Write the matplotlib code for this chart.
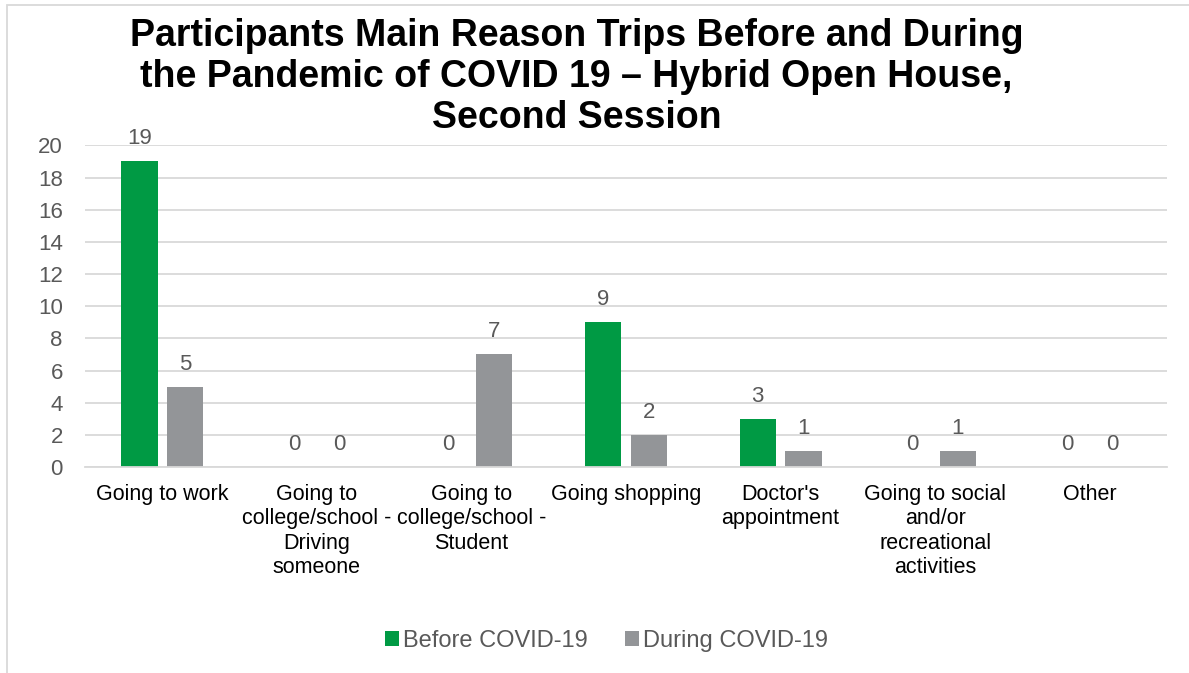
import matplotlib.pyplot as plt
import numpy as np

plt.rcParams["font.family"] = ["Liberation Sans", "DejaVu Sans"]

categories = [
    "Going to work",
    "Going to\ncollege/school -\nDriving\nsomeone",
    "Going to\ncollege/school -\nStudent",
    "Going shopping",
    "Doctor's\nappointment",
    "Going to social\nand/or\nrecreational\nactivities",
    "Other",
]
before = [19, 0, 0, 9, 3, 0, 0]
during = [5, 0, 7, 2, 1, 1, 0]
series_names = ["Before COVID-19", "During COVID-19"]
title_lines = [
    "Participants Main Reason Trips Before and During",
    "the Pandemic of COVID 19 \u2013 Hybrid Open House,",
    "Second Session",
]

green = "#009A44"
gray = "#939598"
text_gray = "#595959"

fig = plt.figure(figsize=(11.89, 6.73), dpi=100)
ax = fig.add_axes([0.0715, 0.306, 0.910, 0.478])

x = np.arange(len(categories))
w = 0.235
gap = 0.03
b1 = ax.bar(x - w / 2 - gap, before, w, color=green, label=series_names[0])
b2 = ax.bar(x + w / 2 + gap, during, w, color=gray, label=series_names[1])

for bars in (b1, b2):
    for r in bars:
        ax.text(r.get_x() + r.get_width() / 2, r.get_height() + 0.75,
                f"{int(r.get_height())}", ha="center", va="bottom",
                fontsize=16, color=text_gray)

ax.set_ylim(0, 20)
ax.set_xlim(-0.5, len(categories) - 0.5)
ax.set_yticks(range(0, 21, 2))
ax.yaxis.grid(True, color="#D9D9D9", linewidth=1.3)
ax.set_axisbelow(True)
for s in ["top", "right", "left"]:
    ax.spines[s].set_visible(False)
ax.spines["bottom"].set_color("#D9D9D9")
ax.spines["bottom"].set_linewidth(1.3)
ax.tick_params(axis="y", length=0, labelsize=16, labelcolor=text_gray, pad=16)
ax.tick_params(axis="x", length=0, labelsize=15.5, labelcolor="black", pad=12)
ax.set_xticks(x)
ax.set_xticklabels(categories, linespacing=1.22, va="top")

# title drawn line by line so each line keeps a tight box
for i, line in enumerate(title_lines):
    fig.text(0.485, 0.946 - i * 0.061, line, ha="center", va="center",
             fontsize=27, fontweight="bold")

fig.legend(loc="center", bbox_to_anchor=(0.51, 0.048), ncol=2, frameon=False,
           fontsize=17, labelcolor=text_gray, handlelength=0.6, handleheight=0.6,
           handletextpad=0.15, columnspacing=1.6)

# chart border
fig.add_artist(plt.Rectangle((0.006, -0.1), 1.2, 1.093, transform=fig.transFigure,
                             fill=False, edgecolor="#D9D9D9", linewidth=1.3))

fig.savefig("out.png", dpi=100)
